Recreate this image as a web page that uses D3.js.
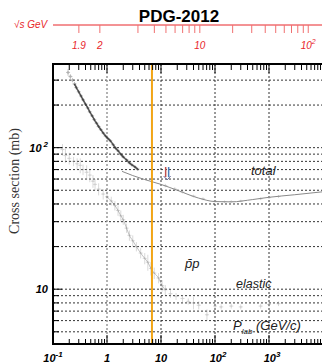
<!DOCTYPE html>
<html>
<head>
<meta charset="utf-8">
<script src="https://cdn.jsdelivr.net/npm/d3@7"></script>
<style>
  body { margin: 0; background: #fff; }
  svg { display: block; font-family: "Liberation Sans", Arial, sans-serif; }
</style>
</head>
<body>
<div id="chart"></div>
<script>
// pbar-p cross sections vs p_lab
// [p_lab GeV/c, sigma mb, error mb]
const totalData = [
  [0.19, 340, 18], [0.21, 318, 12], [0.23, 300, 10], [0.25, 282, 9], [0.27, 266, 8],
  [0.30, 248, 8], [0.33, 232, 6], [0.36, 218, 6], [0.40, 203, 5], [0.44, 191, 5],
  [0.48, 179, 4], [0.53, 168, 4], [0.58, 158, 4], [0.64, 149, 3], [0.70, 141, 3],
  [0.77, 134, 3], [0.85, 127, 3], [0.94, 121, 3], [1.04, 116, 3], [1.15, 112, 3],
  [1.3, 105, 3], [1.45, 99, 3], [1.6, 95, 2], [1.8, 90, 2], [2.0, 86, 2],
  [2.3, 82, 2], [2.6, 78, 2], [2.9, 75.5, 2], [3.3, 73, 2], [3.7, 70.5, 2]
];
const totalHighE = [
  [12, 54, 1.5], [18, 51, 1.5], [25, 48.5, 1], [40, 45.5, 1], [60, 43.5, 1],
  [100, 41.8, 0.8], [150, 41.5, 0.8], [200, 41.6, 0.8], [300, 42.0, 0.8],
  [700, 43.6, 1], [1000, 44.4, 1], [1500, 45.2, 1]
];
// global fit curve
const totalFit = [
  [1.9, 68], [3, 63.5], [5, 59.5], [10, 55], [20, 50], [50, 44],
  [100, 41.6], [200, 41.4], [500, 43], [1000, 44.6], [3000, 46.5], [10000, 48.8]
];
const elasticData = [
  [0.15, 97, 9], [0.17, 88, 10], [0.2, 84, 8], [0.24, 80, 6], [0.28, 77, 7],
  [0.32, 75, 9], [0.36, 70, 6], [0.42, 67, 8], [0.48, 64, 7], [0.55, 58, 6],
  [0.6, 55, 5], [0.7, 51, 5], [0.85, 47, 4], [1.0, 45, 4], [1.2, 42, 3],
  [1.4, 39, 3], [1.6, 36, 3], [1.8, 33, 3], [2.0, 31, 2.5], [2.3, 27, 2],
  [2.6, 24, 2], [3.0, 22, 2], [3.5, 20, 1.5], [4.2, 18, 1.5], [5.0, 16.5, 1.5],
  [5.7, 15.5, 2], [6.5, 14, 1.5], [7.5, 13, 1.2], [9.0, 12, 1], [10.5, 10.6, 1],
  [12, 9.9, 0.8], [15, 9.3, 0.6], [19, 8.9, 0.5], [25, 8.6, 0.5], [32, 8.2, 0.4],
  [40, 8.0, 0.8], [50, 7.7, 0.5], [71, 6.6, 0.6], [100, 7.6, 0.3], [130, 7.5, 0.3],
  [200, 7.6, 0.3], [300, 7.5, 0.3], [700, 7.6, 0.3], [1000, 7.8, 0.3], [1500, 7.9, 0.3]
];
const yGrid = [5, 6, 7, 8, 9, 10, 20, 30, 40, 50, 60, 70, 80, 90, 100, 200, 300];
const xGrid = [1, 10, 100, 1000];
const xDecades = [0.1, 1, 10, 100, 1000];
const xLabels = [[0.1, '10', '-1'], [1, '1', ''], [10, '10', ''], [100, '10', '2'], [1000, '10', '3']];
const yLabels = [[100, '10', '2'], [10, '10', '']];
const sqrtsTicks = [1.9, 2, 3, 4, 5, 6, 7, 8, 9, 10, 20, 30, 40, 50, 60, 70, 80, 90, 100];
const sqrtsLabels = [[1.9, '1.9', ''], [2, '2', ''], [10, '10', ''], [100, '10', '2']];
const markerP = 6.8;   // orange line
const mp = 0.938272;   // proton mass

const W = 322, H = 364;
const plot = { left: 53, right: 323, top: 64, bottom: 344 };

const svg = d3.select('#chart').append('svg')
  .attr('width', W).attr('height', H);

const x = d3.scaleLog().domain([0.1, 1e4]).range([plot.left, plot.right]);
const y = d3.scaleLog().domain([4.1, 390]).range([plot.bottom, plot.top]);

// sqrt(s) -> p_lab for fixed target
function sqrtsToP(rs) {
  const s = rs * rs;
  const E = (s - 2 * mp * mp) / (2 * mp);
  return Math.sqrt(E * E - mp * mp);
}

// title
svg.append('text')
  .attr('x', 179).attr('y', 22)
  .attr('text-anchor', 'middle')
  .style('font-weight', 'bold').style('font-size', '17px')
  .text('PDG-2012');

// top sqrt(s) axis
const red = '#e8262b';
svg.append('line')
  .attr('x1', plot.left).attr('x2', W).attr('y1', 25).attr('y2', 25)
  .attr('stroke', red).attr('stroke-width', 1);
svg.selectAll('.sqtick').data(sqrtsTicks).enter().append('line')
  .attr('x1', d => x(sqrtsToP(d))).attr('x2', d => x(sqrtsToP(d)))
  .attr('y1', 25).attr('y2', 33)
  .attr('stroke', '#f07070').attr('stroke-width', 1);
const sqLab = svg.selectAll('.sqlab').data(sqrtsLabels).enter().append('text')
  .attr('x', d => x(sqrtsToP(d[0])))
  .attr('y', 49)
  .attr('text-anchor', 'middle')
  .style('font-style', 'italic').style('font-size', '10px')
  .attr('fill', red);
sqLab.append('tspan').text(d => d[1]);
sqLab.append('tspan').attr('dy', -5).style('font-size', '7px').text(d => d[2]);
svg.append('text')
  .attr('x', 14).attr('y', 28)
  .style('font-style', 'italic').style('font-size', '10px')
  .attr('fill', red)
  .text('\u221As GeV');

// grid
svg.selectAll('.hgrid').data(yGrid).enter().append('line')
  .attr('x1', plot.left).attr('x2', plot.right)
  .attr('y1', d => y(d)).attr('y2', d => y(d))
  .attr('stroke', '#333').attr('stroke-width', 1)
  .attr('stroke-dasharray', '2,2');
svg.selectAll('.vgrid').data(xGrid).enter().append('line')
  .attr('x1', d => x(d)).attr('x2', d => x(d))
  .attr('y1', plot.top).attr('y2', plot.bottom)
  .attr('stroke', d => d === 1 ? '#999' : '#333')
  .attr('stroke-width', d => d === 1 ? 1.5 : 1)
  .attr('stroke-dasharray', '2,2');

// data points with error bars
function drawPoints(data, col, op, r) {
  const g = svg.append('g').attr('opacity', op);
  g.selectAll('.eb').data(data).enter().append('line')
    .attr('x1', d => x(d[0])).attr('x2', d => x(d[0]))
    .attr('y1', d => y(d[1] - d[2])).attr('y2', d => y(d[1] + d[2]))
    .attr('stroke', col).attr('stroke-width', 0.8);
  g.selectAll('.ebx').data(data).enter().append('line')
    .attr('x1', d => x(d[0]) - 2).attr('x2', d => x(d[0]) + 2)
    .attr('y1', d => y(d[1])).attr('y2', d => y(d[1]))
    .attr('stroke', col).attr('stroke-width', 0.8);
  g.selectAll('.pt').data(data).enter().append('circle')
    .attr('cx', d => x(d[0])).attr('cy', d => y(d[1]))
    .attr('r', r).attr('fill', col);
  return g;
}

const lineGen = d3.line().x(d => x(d[0])).y(d => y(d[1])).curve(d3.curveMonotoneX);

drawPoints(elasticData, '#999', 0.45, 0.9);
svg.append('path').datum(elasticData.filter(d => d[0] >= 0.9 && d[0] <= 12))
  .attr('d', lineGen).attr('fill', 'none')
  .attr('stroke', '#666').attr('stroke-width', 1).attr('opacity', 0.4);

drawPoints(totalHighE, '#aaa', 0.6, 0.8);
svg.append('path').datum(totalFit)
  .attr('d', lineGen).attr('fill', 'none')
  .attr('stroke', '#8a8a8a').attr('stroke-width', 1);

drawPoints(totalData, '#666', 0.5, 1.2);
svg.append('path').datum(totalData.filter(d => d[0] >= 0.25))
  .attr('d', lineGen).attr('fill', 'none')
  .attr('stroke', '#222').attr('stroke-width', 1.6).attr('opacity', 0.75);

// orange marker line
svg.append('line')
  .attr('x1', x(markerP)).attr('x2', x(markerP))
  .attr('y1', plot.top).attr('y2', plot.bottom)
  .attr('stroke', '#f2a516').attr('stroke-width', 2);

// double down arrow
const ax = x(13), ay0 = 167, ay1 = 180;
svg.append('line').attr('x1', ax - 1.5).attr('x2', ax - 1.5).attr('y1', ay0).attr('y2', ay1 - 3)
  .attr('stroke', '#c0504d').attr('stroke-width', 1.5);
svg.append('line').attr('x1', ax + 1.5).attr('x2', ax + 1.5).attr('y1', ay0).attr('y2', ay1 - 3)
  .attr('stroke', '#4a7ebb').attr('stroke-width', 1.5);
svg.append('path')
  .attr('d', `M${ax - 3.5},${ay1 - 4} L${ax},${ay1} L${ax + 3.5},${ay1 - 4}`)
  .attr('fill', 'none').attr('stroke', '#6a6a9a').attr('stroke-width', 1);

// frame
svg.append('path')
  .attr('d', `M${plot.right},${plot.top} H${plot.left} V${plot.bottom} H${plot.right}`)
  .attr('fill', 'none').attr('stroke', '#000').attr('stroke-width', 2);

// x minor/major ticks on top and bottom of frame
const xTicks = [];
xDecades.forEach(dec => { for (let m = 1; m <= 9; m++) xTicks.push([dec * m, m === 1]); });
xTicks.push([1e4, true]);
svg.selectAll('.xtb').data(xTicks).enter().append('line')
  .attr('x1', d => x(d[0])).attr('x2', d => x(d[0]))
  .attr('y1', plot.bottom).attr('y2', d => plot.bottom - (d[1] ? 9 : 5))
  .attr('stroke', '#000').attr('stroke-width', 1);
svg.selectAll('.xtt').data(xTicks).enter().append('line')
  .attr('x1', d => x(d[0])).attr('x2', d => x(d[0]))
  .attr('y1', plot.top).attr('y2', d => plot.top + (d[1] ? 9 : 6))
  .attr('stroke', '#000').attr('stroke-width', 1);

// y ticks
svg.selectAll('.yt').data(yGrid).enter().append('line')
  .attr('x1', plot.left).attr('x2', d => plot.left + (d === 10 || d === 100 ? 9 : 6))
  .attr('y1', d => y(d)).attr('y2', d => y(d))
  .attr('stroke', '#000').attr('stroke-width', 1);

// tick labels
const xl = svg.selectAll('.xl').data(xLabels).enter().append('text')
  .attr('x', d => x(d[0]) + (d[2] && d[2] !== '-1' ? 3 : 0))
  .attr('y', 362)
  .attr('text-anchor', 'middle')
  .style('font-weight', 'bold').style('font-style', 'italic').style('font-size', '11px');
xl.append('tspan').text(d => d[1]);
xl.append('tspan').attr('dy', -5).style('font-size', '8px').text(d => d[2]);

const yl = svg.selectAll('.yl').data(yLabels).enter().append('text')
  .attr('x', 48)
  .attr('y', d => y(d[0]) + 4)
  .attr('text-anchor', 'end')
  .style('font-weight', 'bold').style('font-style', 'italic').style('font-size', '11px');
yl.append('tspan').text(d => d[1]);
yl.append('tspan').attr('dy', d => d[2] ? -5 : 0).attr('dx', 2).style('font-size', '8px').text(d => d[2]);

// y title
svg.append('text')
  .attr('transform', 'translate(19,181) rotate(-90)')
  .attr('text-anchor', 'middle')
  .style('font-family', '"Liberation Serif", "Times New Roman", serif')
  .style('font-size', '14px').attr('fill', '#333')
  .text('Cross section (mb)');

// annotations
const ann = (tx, ty, txt, size) => svg.append('text')
  .attr('x', tx).attr('y', ty)
  .style('font-style', 'italic').style('font-size', size).attr('fill', '#222')
  .text(txt);
ann(251, 175, 'total', '13px');
ann(236, 288, 'elastic', '12.5px');
ann(185, 268, 'p\u0304p', '13px');
const pl = svg.append('text').attr('x', 233).attr('y', 330)
  .style('font-style', 'italic').style('font-size', '13px').attr('fill', '#222');
pl.append('tspan').text('P');
pl.append('tspan').attr('dy', 4).style('font-size', '8px').text('lab');
pl.append('tspan').attr('dy', -4).text(' (GeV/c)');
</script>
</body>
</html>
